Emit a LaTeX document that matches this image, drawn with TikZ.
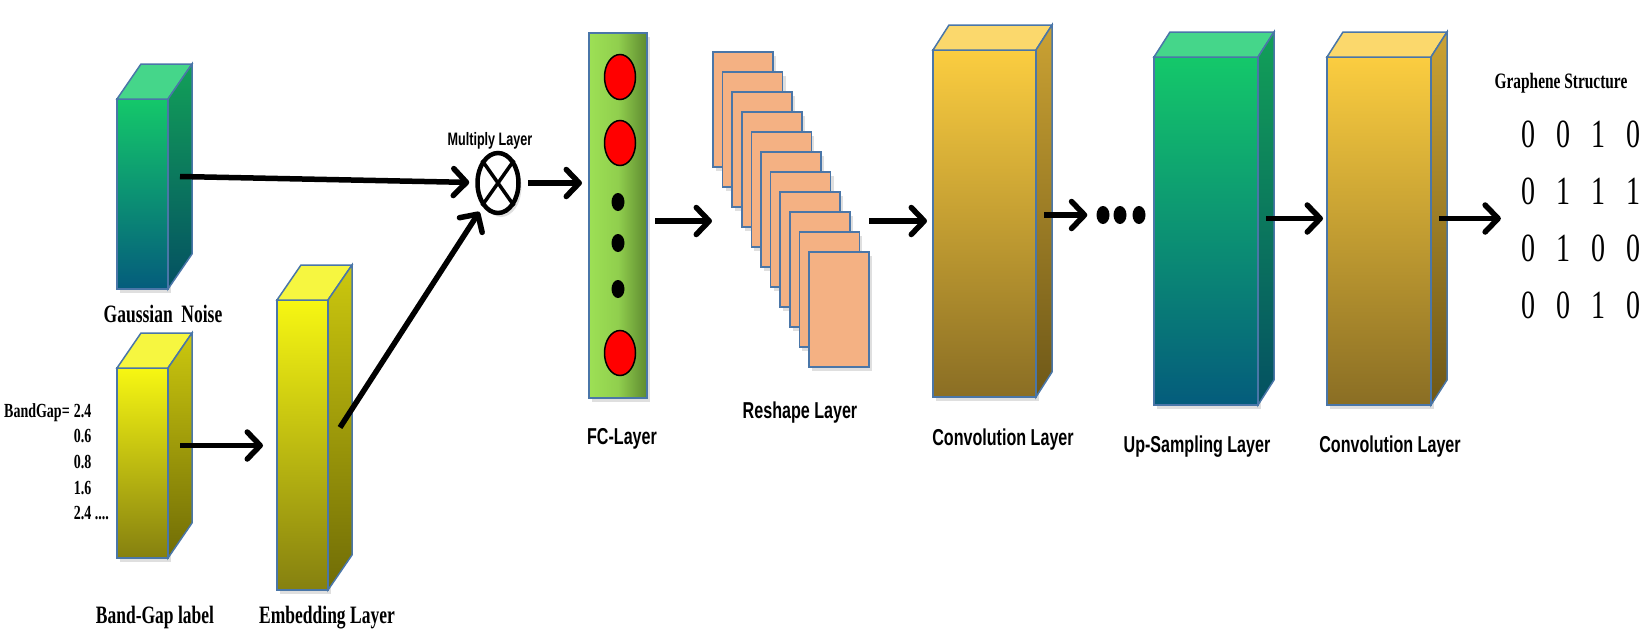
\documentclass[tikz,border=0pt]{standalone}
\usepackage{fontspec}
\newfontfamily\capserif{Liberation Serif}[FakeStretch=0.7]
\newfontfamily\capsans{Liberation Sans}[FakeStretch=0.7]
\usetikzlibrary{arrows.meta,calc,matrix,shadows,shapes.geometric}

\definecolor{boxblue}{HTML}{4A76A8}
\definecolor{gnTop}{HTML}{14C86A}
\definecolor{gnBot}{HTML}{045C7C}
\definecolor{gnLid}{HTML}{45D68A}
\definecolor{gnSideTop}{HTML}{12A058}
\definecolor{gnSideBot}{HTML}{045062}
\definecolor{ywTop}{HTML}{F7F712}
\definecolor{ywBot}{HTML}{858010}
\definecolor{ywLid}{HTML}{F6F640}
\definecolor{ywSideTop}{HTML}{CCC80E}
\definecolor{ywSideBot}{HTML}{706C06}
\definecolor{cvTop}{HTML}{FBCD40}
\definecolor{cvBot}{HTML}{8A6E24}
\definecolor{cvLid}{HTML}{FBD86C}
\definecolor{cvSideTop}{HTML}{CBA233}
\definecolor{cvSideBot}{HTML}{6E5818}
\definecolor{fcLeft}{HTML}{9DE055}
\definecolor{fcRight}{HTML}{5E8A30}
\definecolor{cardfill}{HTML}{F4B183}

% lid and side of a layer block: name, dx, dy, lid, side top, side bottom
\newcommand{\layerdepth}[6]{%
  \filldraw[boxline,fill=#4] (#1.north west) -- ++(#2,#3) -- ([shift={(#2,#3)}]#1.north east) -- (#1.north east) -- cycle;
  \shadedraw[boxline,top color=#5,bottom color=#6] (#1.north east) -- ([shift={(#2,#3)}]#1.north east) -- ([shift={(#2,#3)}]#1.south east) -- (#1.south east) -- cycle;
  \coordinate (#1-side) at ($(#1.east)+(0.5*#2,0.5*#3)$);
}

\begin{document}
\begin{tikzpicture}[x=1pt,y=1pt,
    boxline/.style={draw=boxblue,line width=1.5pt},
    front/.style={boxline,outer sep=0pt,inner sep=0pt,
      drop shadow={opacity=0.25,shadow xshift=3pt,shadow yshift=-4pt}},
    greenbox/.style={front,top color=gnTop,bottom color=gnBot},
    yellowbox/.style={front,top color=ywTop,bottom color=ywBot},
    convbox/.style={front,top color=cvTop,bottom color=cvBot},
    card/.style={front,fill=cardfill,minimum width=60pt,minimum height=115pt},
    unit/.style={ellipse,draw=black,fill=red,line width=1.5pt,minimum width=31pt,minimum height=45pt},
    dot/.style={ellipse,fill=black,inner sep=0pt,minimum width=13pt,minimum height=18pt},
    flow/.style={line width=5.5pt,-{Straight Barb[length=13pt,width=27pt,round]},shorten >=6pt},
    caption/.style={anchor=base,inner sep=0pt,font=\capsans\bfseries\fontsize{23}{23}\selectfont},
    sercaption/.style={anchor=base,inner sep=0pt,font=\capserif\bfseries\fontsize{25}{25}\selectfont}]

    \useasboundingbox (0,0) rectangle (1652,-640);

    % inputs
    \node [greenbox,minimum width=51pt,minimum height=190pt] (noise) at (142.5,-194) {};
    \layerdepth{noise}{24}{35}{gnLid}{gnSideTop}{gnSideBot}
    \node [sercaption] (noiselabel) at (163,-322) {Gaussian\ \ Noise};

    \node [yellowbox,minimum width=51pt,minimum height=190pt] (gap) at (142.5,-463) {};
    \layerdepth{gap}{24}{35}{ywLid}{ywSideTop}{ywSideBot}
    \node [sercaption] (gaplabel) at (155,-623) {Band-Gap label};
    \node [anchor=base west,inner sep=0pt,font=\capserif\bfseries\fontsize{20}{25.7}\selectfont] (gapvalues) at (4,-417)
        {\begin{tabular}[t]{@{}r@{\hspace{4pt}}l@{}}
            BandGap= & 2.4\\
                     & 0.6\\
                     & 0.8\\
                     & 1.6\\
                     & 2.4 ....
        \end{tabular}};

    \node [yellowbox,minimum width=51pt,minimum height=290pt] (embed) at (302.5,-445) {};
    \layerdepth{embed}{24}{35}{ywLid}{ywSideTop}{ywSideBot}
    \node [sercaption] (embedlabel) at (327,-623) {Embedding Layer};

    % multiply
    \node [ellipse,draw=black,fill=white,line width=4.5pt,inner sep=0pt,minimum width=41pt,minimum height=60pt,
        drop shadow={opacity=0.25,shadow xshift=3pt,shadow yshift=-4pt}] (mult) at (498,-183) {};
    \draw [line width=3.5pt] (mult.north west) -- (mult.south east) (mult.north east) -- (mult.south west);
    \node [caption,font=\capsans\bfseries\fontsize{18}{18}\selectfont] (multlabel) at (490,-145) {Multiply Layer};

    % fully connected
    \node [front,left color=fcLeft,right color=fcRight,middle color=fcLeft!80!fcRight,
        minimum width=58pt,minimum height=365pt] (fc) at (618,-215.5) {};
    \node [unit] (fcu1) at (620,-77) {};
    \node [unit] (fcu2) at (620,-143) {};
    \node [dot] (fcd1) at (618,-202) {};
    \node [dot] (fcd2) at (618,-243) {};
    \node [dot] (fcd3) at (618,-289) {};
    \node [unit] (fcu3) at (620,-353) {};
    \node [caption] (fclabel) at (622,-444) {FC-Layer};

    % reshape
    \node [card] (card0) at (743,-109.5) {};
    \node [card] (card1) at (752.6,-129.5) {};
    \node [card] (card2) at (762.2,-149.5) {};
    \node [card] (card3) at (771.8,-169.5) {};
    \node [card] (card4) at (781.4,-189.5) {};
    \node [card] (card5) at (791,-209.5) {};
    \node [card] (card6) at (800.6,-229.5) {};
    \node [card] (card7) at (810.2,-249.5) {};
    \node [card] (card8) at (819.8,-269.5) {};
    \node [card] (card9) at (829.4,-289.5) {};
    \node [card] (card10) at (839,-309.5) {};
    \node [caption] (reshapelabel) at (800,-418) {Reshape Layer};

    % convolution / up-sampling
    \node [convbox,minimum width=103pt,minimum height=347pt] (conv1) at (984.5,-223.5) {};
    \layerdepth{conv1}{16}{25}{cvLid}{cvSideTop}{cvSideBot}
    \node [caption] (conv1label) at (1003,-445) {Convolution Layer};

    \node [dot] (more1) at (1103,-215) {};
    \node [dot] (more2) at (1120,-215) {};
    \node [dot] (more3) at (1139,-215) {};

    \node [greenbox,minimum width=104pt,minimum height=348pt] (upsample) at (1206,-231) {};
    \layerdepth{upsample}{16}{25}{gnLid}{gnSideTop}{gnSideBot}
    \node [caption] (upsamplelabel) at (1197,-452) {Up-Sampling Layer};

    \node [convbox,minimum width=104pt,minimum height=348pt] (conv2) at (1379,-231) {};
    \layerdepth{conv2}{16}{25}{cvLid}{cvSideTop}{cvSideBot}
    \node [caption] (conv2label) at (1390,-452) {Convolution Layer};

    % output
    \node [sercaption,font=\capserif\bfseries\fontsize{22}{22}\selectfont] (graphenelabel) at (1561,-88) {Graphene Structure};
    \matrix [matrix of nodes,nodes={inner sep=0pt,minimum width=35.3pt,minimum height=56.7pt,
        font=\capserif\fontsize{40}{40}\selectfont}] (graphene) at (1581,-220) {
        0 & 0 & 1 & 0\\
        0 & 1 & 1 & 1\\
        0 & 1 & 0 & 0\\
        0 & 0 & 1 & 0\\
    };

    \draw [flow] (noise-side) -- (mult);
    \draw [flow] (embed-side) -- (mult);
    \draw [flow,shorten >=14pt] (gap-side) -- (gap-side -| embed.west);
    \draw [flow,shorten <=7pt,shorten >=7pt] (mult.east) -- (mult.east -| fc.west);
    \draw [flow,shorten <=8pt,shorten >=1pt] ([yshift=-5.5pt]fc.east) -- ([yshift=-5.5pt]fc.east -| card0.west);
    \draw [flow] ([yshift=2.5pt]conv1.west -| card10.east) -- ([yshift=2.5pt]conv1.west);
    \draw [flow,shorten >=9pt] (conv1-side |- more1) -- (more1.west);
    \draw [flow,shorten >=4pt] (upsample-side) -- (upsample-side -| conv2.west);
    \draw [flow] (conv2-side) -- (conv2-side -| graphene.west);
\end{tikzpicture}
\end{document}
